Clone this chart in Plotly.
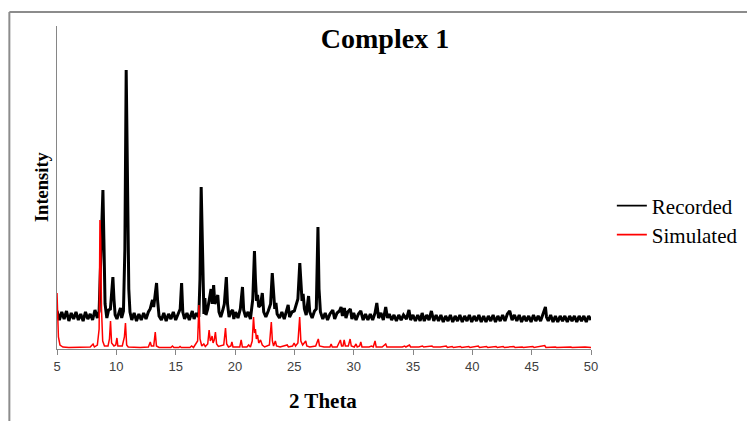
import plotly.graph_objects as go

# Recorded pattern (2 theta, intensity in arbitrary units)
rec_x = [5.0, 5.2, 5.4, 5.6, 5.8, 6.0, 6.2, 6.4, 6.6, 6.8, 7.0, 7.2, 7.4, 7.6, 7.8, 8.0, 8.2, 8.4,
         8.55, 8.7, 8.8, 8.87, 8.95, 9.05, 9.2, 9.35, 9.5, 9.62, 9.71, 9.8, 9.9, 10.05, 10.2, 10.35,
         10.45, 10.6, 10.72, 10.8, 10.83, 10.88, 10.95, 11.05, 11.15, 11.3, 11.5, 11.7, 11.9, 12.1,
         12.3, 12.5, 12.7, 12.85, 13.0, 13.05, 13.15, 13.3, 13.39, 13.48, 13.6, 13.8, 14.0, 14.2,
         14.4, 14.6, 14.8, 15.0, 15.2, 15.38, 15.5, 15.6, 15.75, 15.95, 16.15, 16.4, 16.55, 16.75,
         16.95, 17.05, 17.15, 17.22, 17.3, 17.38, 17.46, 17.55, 17.7, 17.85, 17.98, 18.08, 18.2,
         18.3, 18.42, 18.55, 18.65, 18.8, 18.95, 19.1, 19.27, 19.37, 19.5, 19.65, 19.8, 19.9, 20.05,
         20.25, 20.45, 20.63, 20.73, 20.9, 21.1, 21.3, 21.5, 21.64, 21.72, 21.82, 21.9, 22.0, 22.15,
         22.3, 22.42, 22.6, 22.8, 23.0, 23.14, 23.25, 23.35, 23.45, 23.55, 23.75, 23.95, 24.15,
         24.35, 24.48, 24.6, 24.8, 25.0, 25.17, 25.3, 25.46, 25.56, 25.65, 25.74, 25.85, 26.0, 26.2,
         26.3, 26.5, 26.7, 26.85, 26.99, 27.08, 27.2, 27.4, 27.6, 27.8, 28.0, 28.24, 28.4, 28.6,
         28.8, 28.94, 29.05, 29.22, 29.35, 29.5, 29.72, 29.85, 30.0, 30.2, 30.4, 30.6, 30.8, 31.0,
         31.2, 31.4, 31.6, 31.8, 31.95, 32.1, 32.3, 32.5, 32.7, 32.85, 33.0, 33.2, 33.4, 33.6, 33.8,
         34.0, 34.2, 34.45, 34.66, 34.8, 35.0, 35.2, 35.4, 35.6, 35.77, 35.95, 36.15, 36.35, 36.55,
         36.75, 36.95, 37.15, 37.35, 37.55, 37.75, 37.95, 38.15, 38.35, 38.55, 38.75, 38.95, 39.15,
         39.35, 39.55, 39.75, 39.95, 40.15, 40.35, 40.55, 40.75, 40.95, 41.15, 41.35, 41.55, 41.75,
         41.95, 42.15, 42.35, 42.55, 42.75, 42.95, 43.15, 43.35, 43.55, 43.75, 43.95, 44.15, 44.35,
         44.55, 44.75, 44.95, 45.15, 45.35, 45.55, 45.75, 45.95, 46.1, 46.16, 46.25, 46.4, 46.6,
         46.8, 47.0, 47.2, 47.4, 47.6, 47.8, 48.0, 48.2, 48.4, 48.6, 48.8, 49.0, 49.2, 49.4, 49.6,
         49.8, 50.0]
rec_y = [38, 29, 37, 30, 38, 28, 36, 30, 37, 29, 35, 28, 37, 30, 35, 29, 39, 31,
         38, 90, 145, 159, 110, 45, 31, 39, 40, 55, 72, 50, 34, 30, 37, 41,
         31, 38, 100, 200, 279, 230, 150, 60, 37, 29, 36, 28, 35, 29,
         36, 30, 37, 40, 47, 49, 42, 55, 66, 48, 33, 29, 36, 28,
         35, 30, 37, 29, 36, 40, 66, 37, 30, 36, 29, 38, 30, 36,
         32, 70, 162, 110, 50, 35, 51, 34, 40, 50, 60, 45, 64,
         45, 50, 54, 37, 32, 38, 45, 72, 45, 32, 37, 39, 30, 37,
         31, 40, 62, 39, 32, 37, 30, 50, 98, 70, 48, 54, 42, 44,
         56, 37, 32, 38, 45, 76, 50, 40, 46, 35, 31, 37, 30,
         38, 44, 32, 37, 38, 44, 50, 86, 70, 48, 55, 40, 34, 53,
         37, 31, 38, 40, 122, 60, 37, 30, 36, 29, 35, 39, 30, 36,
         38, 42, 33, 41, 31, 37, 40, 30, 36, 29, 35, 38, 29, 35,
         29, 35, 29, 36, 46, 31, 36, 29, 42, 31, 35, 29, 34, 28, 34,
         29, 34, 30, 39, 29, 34, 28, 34, 28, 36, 28, 34, 29, 38,
         28, 34, 28, 34, 27, 33, 28, 34, 27, 33, 28, 34, 27,
         33, 28, 34, 27, 33, 28, 34, 27, 33, 27, 33, 28, 34,
         27, 33, 28, 34, 28, 35, 38, 29, 34, 28, 34, 27, 33,
         28, 33, 27, 34, 28, 33, 28, 34, 40, 42, 32, 28, 34,
         27, 33, 27, 33, 28, 33, 27, 33, 28, 33, 27, 33, 28, 33, 27,
         33, 29]

# Simulated pattern
sim_x = [5.0, 5.05, 5.12, 5.25, 5.5, 6.0, 7.0, 7.8, 8.04, 8.15, 8.4, 8.55, 8.62, 8.68, 8.75, 8.85,
         9.0, 9.3, 9.42, 9.51, 9.6, 9.8, 9.95, 10.05, 10.13, 10.5, 10.68, 10.77, 10.87, 11.0, 12.0,
         12.7, 12.86, 12.95, 13.15, 13.28, 13.38, 13.6, 14.6, 14.73, 14.85, 15.27, 15.37, 15.47,
         16.2, 16.35, 16.5, 16.85, 16.96, 17.05, 17.2, 17.37, 17.5, 17.7, 17.82, 17.92, 18.0, 18.07,
         18.15, 18.25, 18.35, 18.45, 18.6, 19.05, 19.2, 19.3, 19.45, 19.65, 19.74, 19.83, 20.4,
         20.52, 20.62, 21.0, 21.15, 21.3, 21.45, 21.56, 21.65, 21.72, 21.8, 21.9, 22.0, 22.15, 22.3,
         22.5, 22.9, 23.06, 23.15, 23.25, 23.4, 23.5, 23.8, 24.4, 24.5, 24.85, 24.98, 25.1, 25.3,
         25.45, 25.55, 25.7, 25.96, 26.05, 26.3, 26.8, 27.02, 27.12, 27.5, 28.0, 28.1, 28.2, 28.6,
         28.88, 28.98, 29.1, 29.2, 29.3, 29.55, 29.7, 29.8, 30.05, 30.2, 30.3, 30.5, 30.6, 30.7,
         31.3, 31.5, 31.65, 31.8, 31.9, 32.4, 32.7, 32.8, 33.5, 34.1, 34.3, 34.4, 34.7, 34.8, 35.5,
         35.8, 35.9, 36.6, 36.7, 37.3, 37.8, 37.9, 38.3, 38.4, 39.0, 39.1, 39.7, 39.8, 40.5, 40.6,
         41.2, 41.3, 42.0, 42.1, 42.6, 42.7, 43.5, 43.6, 44.2, 44.3, 45.1, 45.2, 46.1, 46.2, 47.0,
         47.1, 48.3, 48.4, 49.5, 50.0]
sim_y = [56, 30, 12, 4, 2, 1.5, 1.5, 2, 5, 2, 4, 20, 129, 110, 40, 8,
         3, 3, 10, 28, 6, 3, 4, 11, 3, 3, 12, 26, 4, 2, 1.5,
         2, 7, 3, 3, 17, 3, 1.5, 1.5, 3, 1.5, 1.5, 2.5, 1.5,
         1.5, 3, 1.5, 8, 44, 10, 3, 5, 2.5, 5, 19, 8, 10, 13,
         6, 9, 17, 5, 2.5, 4, 21, 5, 2, 3, 7, 2, 2,
         9, 2, 2, 4, 2, 8, 32, 16, 20, 10, 14, 6, 9, 4,
         2, 4, 27, 8, 3, 8, 3, 2, 4, 2, 3, 6, 3, 6,
         32, 8, 4, 8, 3, 2, 3, 10, 3, 2, 2, 5, 2, 2,
         9, 3, 3, 9, 3, 3, 10, 3, 2, 5, 2, 3, 7, 2,
         2, 3, 2, 8, 2, 2, 5, 2, 2, 2, 3, 2, 4, 2, 2,
         3, 2, 3, 2, 2, 3, 1.5, 2.5, 1.5, 2.5, 1.5, 2.5, 1.5, 3, 1.5,
         2.5, 1.5, 2.5, 1.5, 2.5, 1.5, 2.5, 1.5, 2, 1.5, 2.5, 1.5, 3.5, 1.5, 2,
         1.5, 2, 1.5, 2, 1.5]

x_ticks = [5, 10, 15, 20, 25, 30, 35, 40, 45, 50]
series_names = ["Recorded", "Simulated"]
series_colors = ["#000000", "#ff0000"]

SERIF = "Liberation Serif"

# The page body adds an 8px offset; all pixel positions below compensate for it.
OFF = 8
L, R, T, B = 57 - OFF, 595 - OFF, 26 - OFF, 349 - OFF
W, H = 755 - OFF, 421 - OFF
PW, PH = R - L, B - T


def px(xp):
    return (xp - OFF - L) / PW


def py(yp):
    return (B - (yp - OFF)) / PH


fig = go.Figure()
fig.add_trace(go.Scatter(x=rec_x, y=rec_y, mode="lines", name=series_names[0],
                         line=dict(color=series_colors[0], width=3.0), showlegend=False))
fig.add_trace(go.Scatter(x=sim_x, y=sim_y, mode="lines", name=series_names[1],
                         line=dict(color=series_colors[1], width=1.5), showlegend=False))
# legend entries (thin sample lines, as in the original legend)
fig.add_trace(go.Scatter(x=[None], y=[None], mode="lines", name=series_names[0],
                         line=dict(color=series_colors[0], width=1.8), legend="legend"))
fig.add_trace(go.Scatter(x=[None], y=[None], mode="lines", name=series_names[1],
                         line=dict(color=series_colors[1], width=1.8), legend="legend2"))

legend_common = dict(x=px(616), xanchor="left", yanchor="middle", bgcolor="rgba(0,0,0,0)",
                     font=dict(family=SERIF, size=21, color="#000000"), itemwidth=30)

fig.update_layout(
    width=W, height=H,
    showlegend=True,
    margin=dict(l=L, r=W - R, t=T, b=H - B),
    paper_bgcolor="white", plot_bgcolor="white",
    title=dict(text="<b>Complex 1</b>", x=(385 - OFF) / W, xanchor="center",
               y=1 - (38 - OFF) / H, yanchor="middle",
               font=dict(family=SERIF, size=28, color="#000000")),
    legend=dict(y=py(206), **legend_common),
    legend2=dict(y=py(235), **legend_common),
    xaxis=dict(range=[5, 50], tickvals=x_ticks, ticktext=[str(t) for t in x_ticks],
               showgrid=False, zeroline=False, showline=True, linecolor="#868686", linewidth=1,
               ticks="outside", ticklen=5, tickcolor="#868686",
               tickfont=dict(family="Liberation Sans", size=13, color="#404040")),
    yaxis=dict(range=[0, 323], showgrid=False, zeroline=False, showline=True,
               linecolor="#868686", linewidth=1, showticklabels=False, ticks=""),
    annotations=[
        dict(text="<b>2 Theta</b>", xref="paper", yref="paper", x=px(325),
             y=py(401), xanchor="center", yanchor="middle", showarrow=False,
             font=dict(family=SERIF, size=21, color="#000000")),
        dict(text="<b>Intensity</b>", xref="paper", yref="paper", x=px(42),
             y=py(187), xanchor="center", yanchor="middle", showarrow=False,
             textangle=-90, font=dict(family=SERIF, size=18.5, color="#000000")),
    ],
    shapes=[
        dict(type="line", xref="paper", yref="paper", x0=px(9), x1=px(770),
             y0=py(12), y1=py(12), line=dict(color="#8c8c8c", width=2)),
        dict(type="line", xref="paper", yref="paper", x0=px(9), x1=px(9),
             y0=py(12), y1=py(440), line=dict(color="#8c8c8c", width=2)),
    ],
)

fig.write_html("out.html")
